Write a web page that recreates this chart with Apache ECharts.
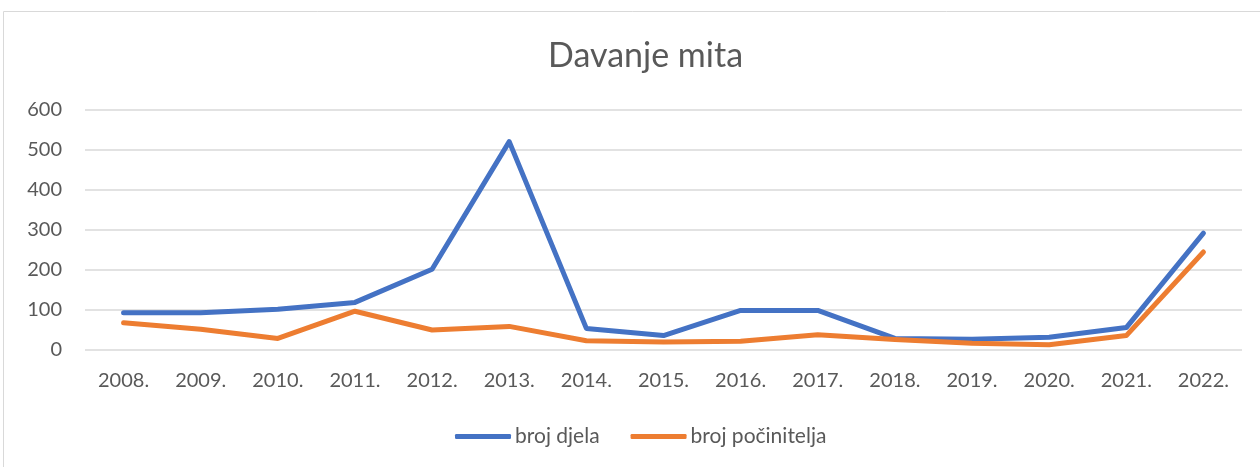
<!DOCTYPE html>
<html>
<head>
<meta charset="utf-8">
<script src="https://cdn.jsdelivr.net/npm/echarts@6/dist/echarts.min.js"></script>
<style>
  html, body { margin: 0; padding: 0; background: #fff; }
  #chart { width: 1260px; height: 467px; }
</style>
</head>
<body>
<div id="chart"></div>
<script>
// godine
const years = ['2008.', '2009.', '2010.', '2011.', '2012.', '2013.', '2014.', '2015.',
  '2016.', '2017.', '2018.', '2019.', '2020.', '2021.', '2022.']
// broj djela
const brojDjela = [93, 93, 102, 119, 202, 521, 54, 36, 99, 99, 29, 27, 32, 56, 292]
// broj počinitelja
const brojPocinitelja = [68, 52, 29, 97, 50, 59, 23, 20, 22, 38, 26, 17, 13, 36, 245]

const textColor = '#595959'
const fontFamily = 'Lato, "Open Sans", sans-serif'

const chart = echarts.init(document.getElementById('chart'))
chart.setOption({
  animation: false,
  textStyle: { fontFamily: fontFamily },
  graphic: [{
    type: 'rect',
    shape: { x: 3.5, y: 11.5, width: 1300, height: 500 },
    style: { fill: 'none', stroke: '#d9d9d9', lineWidth: 1 },
    silent: true
  }],
  title: {
    text: 'Davanje mita',
    left: 543,
    top: 34,
    textStyle: { color: textColor, fontSize: 34, fontWeight: 'normal', fontFamily: fontFamily }
  },
  grid: { left: 85, right: 18, top: 110, bottom: 117 },
  legend: {
    top: 421,
    left: 450,
    itemWidth: 56,
    itemHeight: 5,
    itemGap: 31,
    icon: 'roundRect',
    textStyle: { color: textColor, fontSize: 21, padding: [0, 0, 0, -1] },
    data: ['broj djela', 'broj počinitelja']
  },
  xAxis: {
    type: 'category',
    data: years,
    axisLine: { show: false },
    axisTick: { show: false },
    axisLabel: { color: textColor, fontSize: 20, margin: 21, interval: 0 }
  },
  yAxis: {
    type: 'value',
    min: 0,
    max: 600,
    interval: 100,
    axisLine: { show: false },
    axisTick: { show: false },
    axisLabel: { color: textColor, fontSize: 20, margin: 23 },
    splitLine: { lineStyle: { color: '#d9d9d9', width: 1.5 } }
  },
  series: [
    {
      name: 'broj djela',
      type: 'line',
      data: brojDjela,
      showSymbol: false,
      symbol: 'none',
      lineStyle: { color: '#4472C4', width: 5, cap: 'round', join: 'round' },
      itemStyle: { color: '#4472C4' }
    },
    {
      name: 'broj počinitelja',
      type: 'line',
      data: brojPocinitelja,
      showSymbol: false,
      symbol: 'none',
      lineStyle: { color: '#ED7D31', width: 5, cap: 'round', join: 'round' },
      itemStyle: { color: '#ED7D31' }
    }
  ]
})
</script>
</body>
</html>
